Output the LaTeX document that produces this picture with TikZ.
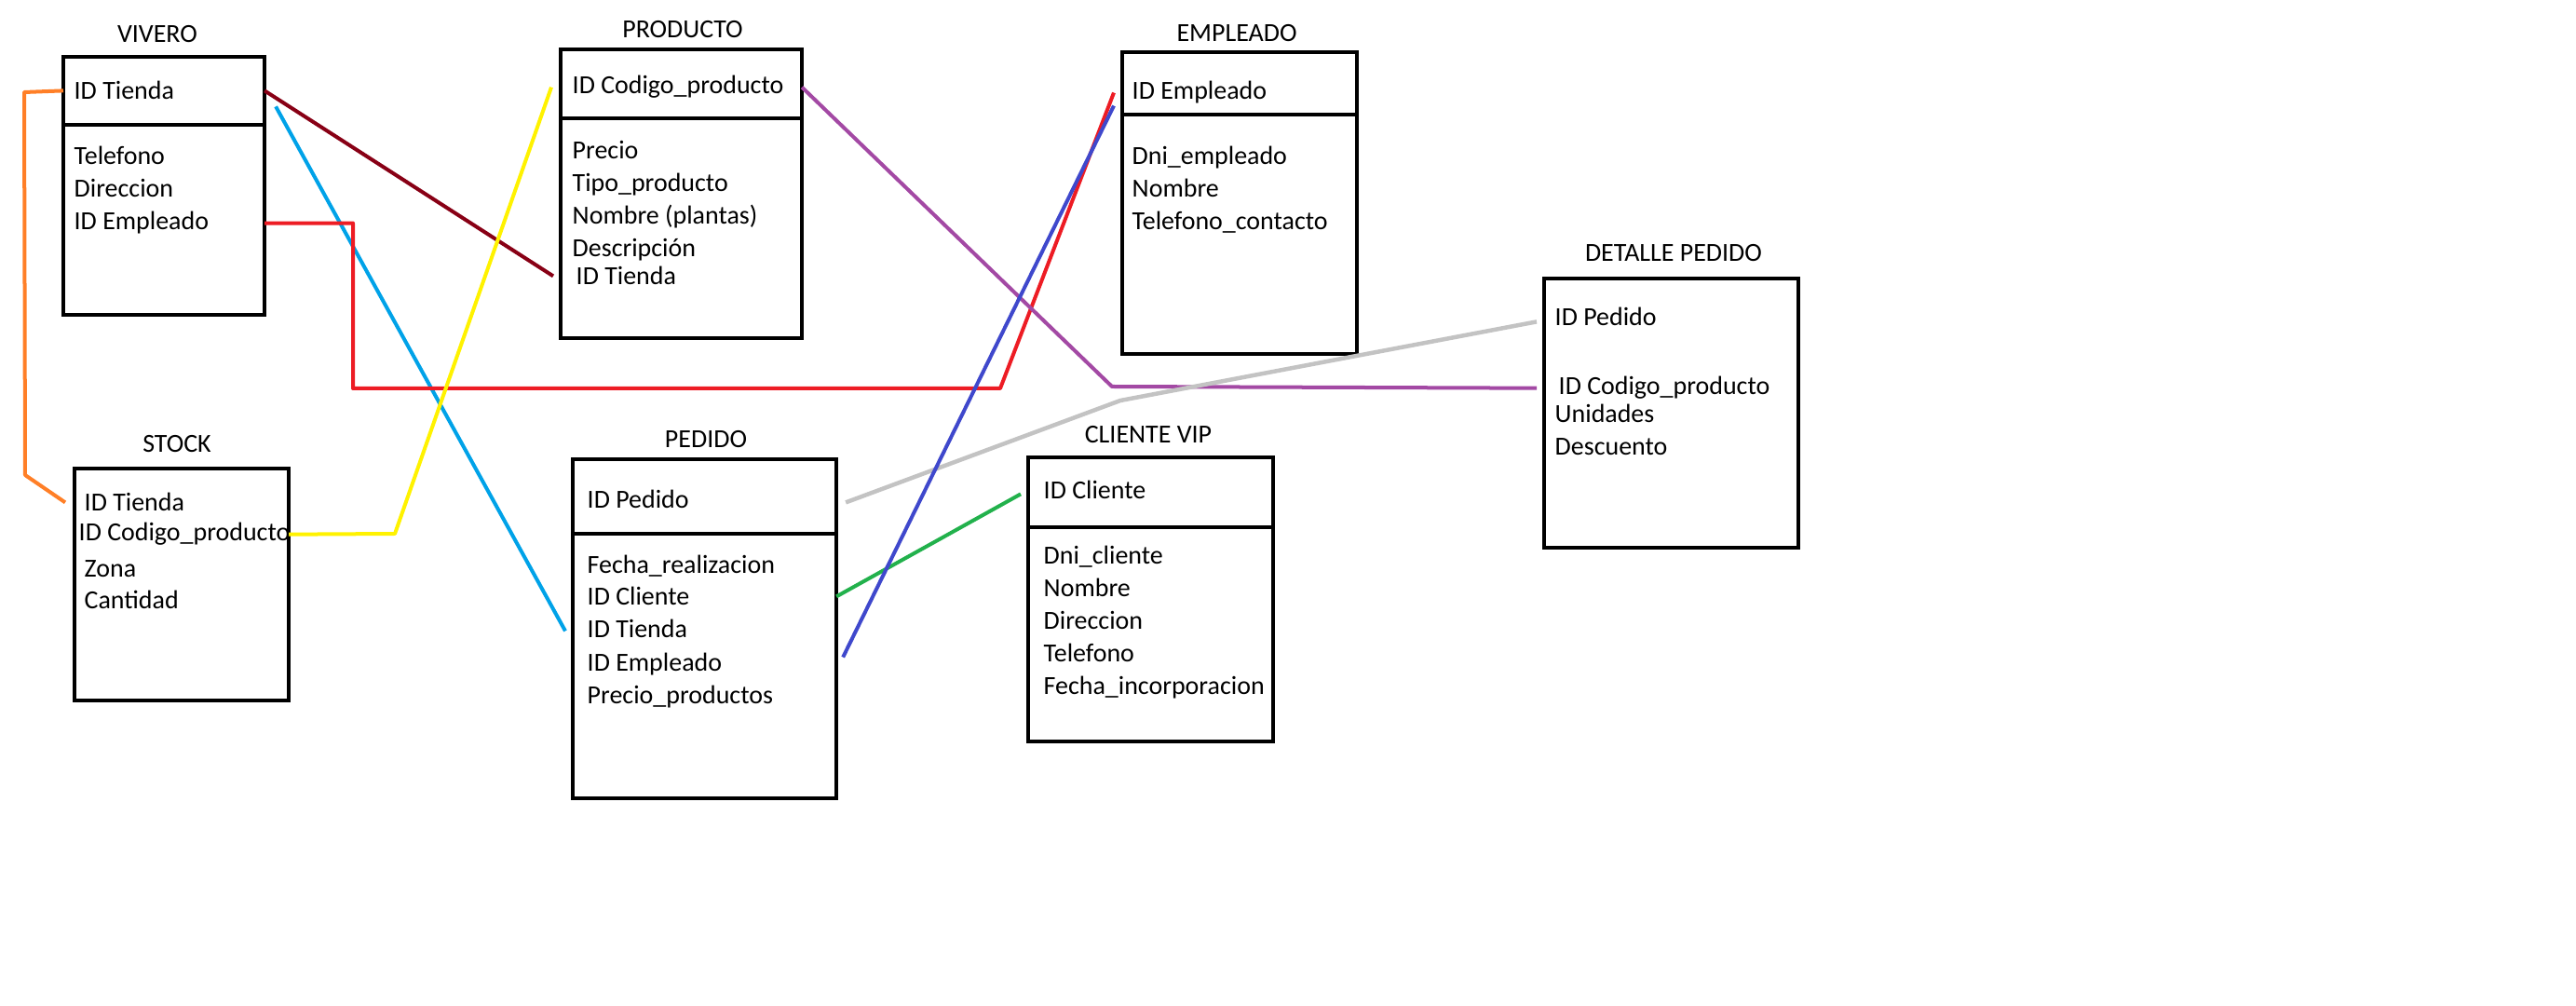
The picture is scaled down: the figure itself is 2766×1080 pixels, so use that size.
\documentclass[tikz,border=0pt]{standalone}
\usepackage{fontspec}
\setmainfont{Carlito}
\usetikzlibrary{calc}
\definecolor{naranja}{HTML}{FF7F27}
\definecolor{granate}{HTML}{880015}
\definecolor{celeste}{HTML}{00A2E8}
\definecolor{rojo}{HTML}{ED1C24}
\definecolor{amarillo}{HTML}{FFF200}
\definecolor{morado}{HTML}{A349A4}
\definecolor{gris}{HTML}{C3C3C3}
\definecolor{verde}{HTML}{22B14C}
\definecolor{azul}{HTML}{3F48CC}
\tikzset{
	caja/.style={draw, line width=0.045cm, anchor=north west, inner sep=0, outer sep=0},
	borde/.style={line width=0.045cm},
	campo/.style={anchor=base west, inner sep=0},
	titulo/.style={anchor=base, inner sep=0},
	rel/.style={line width=0.04cm, line join=round},
}

\begin{document}
\begin{tikzpicture}[x=0.01cm, y=-0.01cm, font=\fontsize{7.95}{9.5}\selectfont]
			%%%%% START %%%%%
			\useasboundingbox (0,0) rectangle (2766,1080);
			
			% VIVERO
			\node[titulo] (tVivero) at (169,46) {VIVERO};
			\node[caja, minimum width=2.16cm, minimum height=2.77cm] (vivero) at (68,61) {};
			\draw[borde] (68,134) -- (284,134);
			\node[campo] (vTienda) at (79,107) {ID Tienda};
			\node[campo] (vTelefono) at (79,177) {Telefono};
			\node[campo] (vDireccion) at (79,212) {Direccion};
			\node[campo] (vEmpleado) at (79,247) {ID Empleado};
			
			% PRODUCTO
			\node[titulo] (tProducto) at (733,41) {PRODUCTO};
			\node[caja, minimum width=2.59cm, minimum height=3.10cm] (producto) at (602,53) {};
			\draw[borde] (602,127) -- (861,127);
			\node[campo] (pCodigo) at (614,101) {ID Codigo\_producto};
			\node[campo] (pPrecio) at (614,171) {Precio};
			\node[campo] (pTipo) at (614,206) {Tipo\_producto};
			\node[campo] (pNombre) at (614,241) {Nombre (plantas)};
			\node[campo] (pDescripcion) at (614,276) {Descripción};
			\node[campo] (pTienda) at (618,306) {ID Tienda};
			
			% EMPLEADO
			\node[titulo] (tEmpleado) at (1328,45) {EMPLEADO};
			\node[caja, minimum width=2.52cm, minimum height=3.24cm] (empleado) at (1205,56) {};
			\draw[borde] (1205,123) -- (1457,123);
			\node[campo] (eEmpleado) at (1215,107) {ID Empleado};
			\node[campo] (eDni) at (1215,177) {Dni\_empleado};
			\node[campo] (eNombre) at (1215,212) {Nombre};
			\node[campo] (eTelefono) at (1215,247) {Telefono\_contacto};
			
			% STOCK
			\node[titulo] (tStock) at (190,486) {STOCK};
			\node[campo] (sTienda) at (90,549) {ID Tienda};
			\node[campo] (sCodigo) at (84,581) {ID Codigo\_producto};
			\node[campo] (sZona) at (90,620) {Zona};
			\node[campo] (sCantidad) at (90,654) {Cantidad};
			\node[caja, minimum width=2.30cm, minimum height=2.49cm] (stock) at (80,503) {};
			
			% PEDIDO
			\node[titulo] (tPedido) at (758,481) {PEDIDO};
			\node[caja, minimum width=2.83cm, minimum height=3.64cm] (pedido) at (615,493) {};
			\draw[borde] (615,573) -- (898,573);
			\node[campo] (pdPedido) at (630,546) {ID Pedido};
			\node[campo] (pdFecha) at (630,616) {Fecha\_realizacion};
			\node[campo] (pdCliente) at (630,650) {ID Cliente};
			\node[campo] (pdTienda) at (630,685) {ID Tienda};
			\node[campo] (pdEmpleado) at (630,721) {ID Empleado};
			\node[campo] (pdPrecio) at (630,756) {Precio\_productos};
			
			% CLIENTE VIP
			\node[titulo] (tCliente) at (1233,476) {CLIENTE VIP};
			\node[caja, minimum width=2.63cm, minimum height=3.05cm] (cliente) at (1104,491) {};
			\draw[borde] (1104,566) -- (1367,566);
			\node[campo] (cCliente) at (1120,536) {ID Cliente};
			\node[campo] (cDni) at (1120,606) {Dni\_cliente};
			\node[campo] (cNombre) at (1120,641) {Nombre};
			\node[campo] (cDireccion) at (1120,676) {Direccion};
			\node[campo] (cTelefono) at (1120,711) {Telefono};
			\node[campo] (cFecha) at (1120,746) {Fecha\_incorporacion};
			
			% DETALLE PEDIDO
			\node[titulo] (tDetalle) at (1797,281) {DETALLE PEDIDO};
			\node[caja, minimum width=2.73cm, minimum height=2.89cm] (detalle) at (1658,299) {};
			\node[campo] (dPedido) at (1669,350) {ID Pedido};
			\node[campo] (dCodigo) at (1673,424) {ID Codigo\_producto};
			\node[campo] (dUnidades) at (1669,454) {Unidades};
			\node[campo] (dDescuento) at (1669,489) {Descuento};
			
			% relaciones
			\draw[rel, naranja] (vivero.west |- vTienda) -- (26,99) -- (27,510) -- ($(stock.west |- sTienda)+(-10,0)$);
			\draw[rel, granate] (vivero.east |- vTienda) -- ($(producto.west |- pTienda)+(-8,0)$);
			\draw[rel, celeste] ($(vivero.east |- vTienda)+(12,17)$) -- ($(pedido.west |- pdTienda)+(-8,2)$);
			\draw[rel, rojo] (vivero.east |- vEmpleado) -| (379,417) -- (1074,417) -- ($(empleado.west |- eEmpleado)+(-9,0)$);
			\draw[rel, amarillo] (stock.east |- sCodigo) -- (424,573) -- ($(producto.west |- pCodigo)+(-10,0)$);
			\draw[rel, morado] (producto.east |- pCodigo) -- (1194,415) -- ($(detalle.west |- dCodigo)+(-8,0)$);
			\draw[rel, gris, line width=0.045cm] ($(pedido.east |- pdPedido)+(10,3)$) -- (1203,430) -- ($(detalle.west |- dPedido)+(-8,5)$);
			\draw[rel, verde] (pedido.east |- pdCliente) -- ($(cliente.west |- cCliente)+(-8,4)$);
			\draw[rel, azul] ($(pedido.east |- pdEmpleado)+(7,-8)$) -- ($(empleado.west |- eEmpleado)+(-9,14)$);
			%%%%% END %%%%%
\end{tikzpicture}
\end{document}
